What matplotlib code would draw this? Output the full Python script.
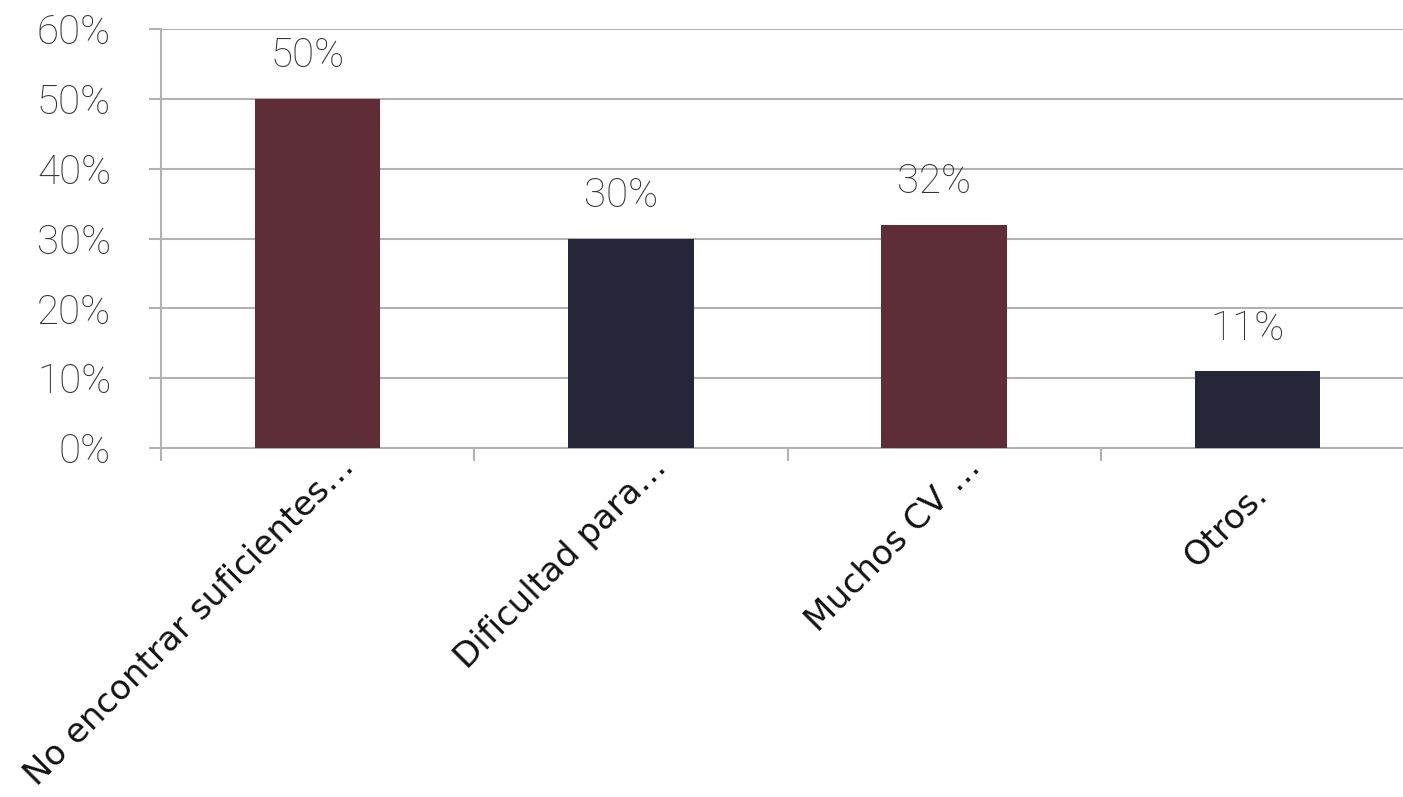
import matplotlib
matplotlib.use("Agg")
import matplotlib.pyplot as plt
from matplotlib.ticker import PercentFormatter

# Data
categories = ["No encontrar suficientes…", "Dificultad para…", "Muchos CV …", "Otros."]
values = [50, 30, 32, 11]
value_labels = ["50%", "30%", "32%", "11%"]
bar_colors = ["#5f2d37", "#252739", "#5f2d37", "#252739"]
y_ticks = [0, 10, 20, 30, 40, 50, 60]

grid_color = "#b2b2b2"
light_font = ["Roboto", "Liberation Sans", "DejaVu Sans"]

fig = plt.figure(figsize=(14.03, 7.97), dpi=100)
ax = fig.add_axes([0.1148, 0.4379, 0.8930, 0.5257])

x = list(range(len(categories)))
ax.bar(x, values, width=0.4, color=bar_colors, zorder=3)

ax.set_xlim(-0.5, len(categories) - 0.5)
ax.set_ylim(0, 60)
ax.set_yticks(y_ticks)
ax.yaxis.set_major_formatter(PercentFormatter(decimals=0))
ax.grid(axis="y", color=grid_color, linewidth=1.5, zorder=0)

for side in ["top", "right"]:
    ax.spines[side].set_visible(False)
for side in ["left", "bottom"]:
    ax.spines[side].set_color(grid_color)
    ax.spines[side].set_linewidth(1.5)

# y tick labels: light grey sans
ax.tick_params(axis="y", length=9, width=1.5, color=grid_color, pad=27,
               labelsize=29, labelcolor="#333333")
for lab in ax.get_yticklabels():
    lab.set_family(light_font)
    lab.set_fontweight("light")

# ticks sit between the categories, labels drawn by hand (rotated 45)
ax.set_xticks([i - 0.5 for i in range(len(categories) + 1)])
ax.set_xticklabels([])
ax.tick_params(axis="x", length=9, width=1.5, color=grid_color)
for i, cat in enumerate(categories):
    dx, dy = 27, -15
    if not cat.endswith("…"):
        # short labels sit a bit further down the diagonal
        dx, dy = dx - 19, dy - 20
    ax.annotate(cat, xy=(i, 0), xytext=(dx, dy), textcoords="offset points",
                rotation=45, rotation_mode="anchor", ha="right", va="baseline",
                fontsize=24.5, color="#111111", family=["DejaVu Sans"])

# value labels above bars
for i, (v, t) in enumerate(zip(values, value_labels)):
    ax.annotate(t, xy=(i, v), xytext=(-7, 17), textcoords="offset points",
                ha="center", va="bottom", fontsize=29, color="#333333",
                family=light_font, fontweight="light")

fig.savefig("out.png", dpi=100)
